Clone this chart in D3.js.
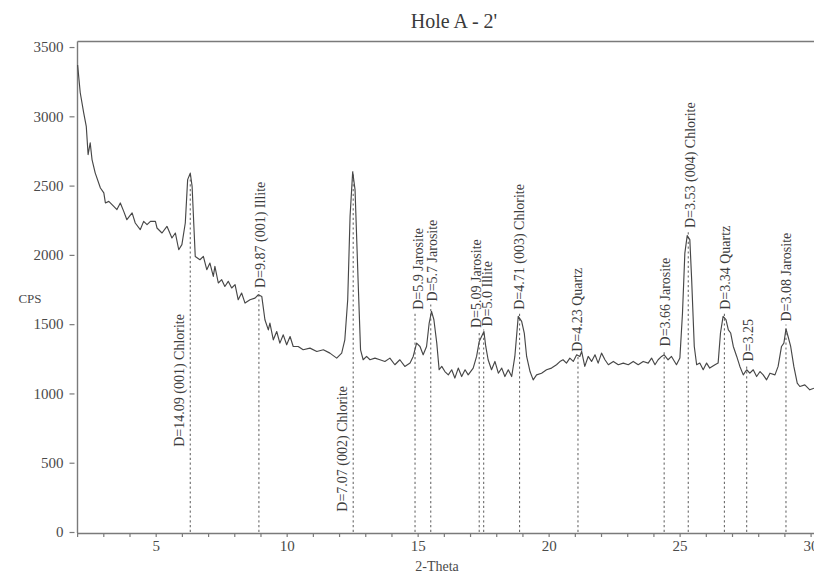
<!DOCTYPE html>
<html>
<head>
<meta charset="utf-8">
<script src="https://cdn.jsdelivr.net/npm/d3@7"></script>
<style>
  html, body { margin: 0; padding: 0; background: #fff; }
  svg { display: block; font-family: "Liberation Serif", "Times New Roman", serif; }
</style>
</head>
<body>
<svg id="chart" width="814" height="575"></svg>
<script>
// Diffraction scan: 2-theta (degrees) and counts per second
const twoTheta = [
  2.02, 2.12, 2.25, 2.35, 2.42, 2.50, 2.57, 2.69, 2.89, 3.02, 3.08, 3.21, 3.40, 3.52, 3.65, 3.78, 3.90,
  4.10, 4.22, 4.41, 4.54, 4.67, 4.80, 4.99, 5.05, 5.24, 5.43, 5.62, 5.75, 5.88, 6.00, 6.13, 6.22, 6.32,
  6.39, 6.46, 6.51, 6.69, 6.82, 6.95, 7.07, 7.20, 7.26, 7.39, 7.52, 7.64, 7.77, 7.90, 8.03, 8.15, 8.28,
  8.41, 8.60, 8.79, 8.92, 9.05, 9.17, 9.30, 9.36, 9.49, 9.62, 9.74, 9.87, 10.00, 10.13, 10.25, 10.44,
  10.63, 10.89, 11.15, 11.40, 11.65, 11.91, 12.10, 12.22, 12.33, 12.42, 12.52, 12.61, 12.73, 12.82,
  12.92, 13.05, 13.18, 13.37, 13.56, 13.75, 13.94, 14.13, 14.32, 14.51, 14.71, 14.83, 14.96, 15.09,
  15.21, 15.34, 15.44, 15.53, 15.62, 15.73, 15.82, 15.92, 16.04, 16.17, 16.30, 16.42, 16.55, 16.68,
  16.81, 16.93, 17.12, 17.25, 17.35, 17.44, 17.53, 17.60, 17.69, 17.82, 17.95, 18.08, 18.21, 18.33,
  18.46, 18.59, 18.71, 18.84, 18.97, 19.07, 19.16, 19.29, 19.41, 19.54, 19.73, 19.92, 20.11, 20.30,
  20.43, 20.55, 20.68, 20.81, 20.94, 21.07, 21.19, 21.26, 21.38, 21.51, 21.64, 21.77, 21.89, 22.02,
  22.15, 22.28, 22.47, 22.66, 22.85, 23.04, 23.23, 23.42, 23.61, 23.80, 23.93, 24.06, 24.18, 24.31,
  24.41, 24.56, 24.69, 24.88, 25.01, 25.11, 25.20, 25.29, 25.39, 25.46, 25.56, 25.65, 25.77, 25.90,
  26.03, 26.15, 26.35, 26.47, 26.56, 26.66, 26.77, 26.86, 26.95, 27.05, 27.18, 27.30, 27.43, 27.56,
  27.68, 27.81, 27.94, 28.07, 28.19, 28.32, 28.45, 28.64, 28.76, 28.89, 28.98, 29.06, 29.14, 29.24,
  29.36, 29.49, 29.59, 29.78, 29.97, 30.13
];
const counts = [
  3370, 3170, 3026, 2928, 2724, 2808, 2688, 2592, 2483, 2447, 2375, 2386, 2350, 2327, 2375, 2314, 2254,
  2303, 2230, 2182, 2242, 2218, 2242, 2242, 2194, 2158, 2206, 2122, 2158, 2037, 2074, 2230, 2543, 2590,
  2495, 2200, 1989, 1965, 1989, 1893, 1941, 1845, 1917, 1797, 1821, 1772, 1809, 1761, 1785, 1676, 1725,
  1652, 1676, 1688, 1712, 1700, 1532, 1459, 1508, 1387, 1447, 1363, 1423, 1351, 1411, 1339, 1339,
  1315, 1327, 1303, 1315, 1291, 1255, 1291, 1387, 1676, 2278, 2600, 2471, 1797, 1315,
  1243, 1267, 1243, 1255, 1243, 1231, 1255, 1207, 1243, 1195, 1219, 1267, 1363, 1339,
  1279, 1339, 1508, 1592, 1532, 1363, 1171, 1195, 1158, 1134, 1171, 1111, 1183, 1122,
  1171, 1134, 1183, 1267, 1375, 1411, 1447, 1339, 1243, 1171, 1231, 1146, 1183, 1122,
  1171, 1122, 1267, 1556, 1520, 1436, 1267, 1158, 1098, 1134, 1146, 1171, 1183, 1207,
  1230, 1243, 1219, 1255, 1231, 1279, 1267, 1303, 1195, 1267, 1231, 1279, 1219, 1291,
  1243, 1207, 1231, 1207, 1219, 1207, 1231, 1207, 1231, 1219, 1255, 1207, 1243, 1267,
  1279, 1243, 1267, 1207, 1255, 1580, 2013, 2140, 2110, 1821, 1339, 1207, 1219, 1171,
  1219, 1183, 1207, 1219, 1436, 1556, 1532, 1459, 1436, 1339, 1267, 1195, 1134, 1171,
  1146, 1171, 1122, 1158, 1134, 1098, 1146, 1134, 1195, 1339, 1363, 1465, 1411, 1339,
  1195, 1074, 1050, 1062, 1026, 1038
];

// Identified reflections
const peakPos = [6.32, 8.94, 12.54, 14.90, 15.50, 17.35, 17.52, 18.89, 21.12, 24.41, 25.33, 26.71, 27.56, 29.06];
// 2-theta at which each label's text column is centred
const labelPos = [5.89, 9.01, 12.13, 15.01, 15.58, 17.25, 17.67, 18.90, 21.10, 24.45, 25.40, 26.76, 27.61, 29.06];
const peakLabels = [
  "D=14.09 (001) Chlorite", "D=9.87 (001) Illite", "D=7.07 (002) Chlorite",
  "D=5.9 Jarosite", "D=5.7 Jarosite", "D=5.09 Jarosite", "D=5.0 Illite",
  "D=4.71 (003) Chlorite", "D=4.23 Quartz", "D=3.66 Jarosite", "D=3.53 (004) Chlorite",
  "D=3.34 Quartz", "D=3.25", "D=3.08 Jarosite"
];
// CPS level where each marker line stops, and where its label begins
const markerTop = [2590, 1761, 2600, 1604, 1664, 1472, 1483, 1604, 1300, 1339, 2194, 1604, 1230, 1519];
const labelBase = [615, 1761, 147, 1604, 1664, 1472, 1483, 1604, 1300, 1339, 2194, 1604, 1230, 1519];
const labelBelow = [true, false, true, false, false, false, false, false, false, false, false, false, false, false];

const yTicks = [0, 500, 1000, 1500, 2000, 2500, 3000, 3500];
const xMajor = [5, 10, 15, 20, 25, 30];
const xMinor = d3.range(2, 31);

const svg = d3.select("#chart");
const plotLeft = 77.5, plotRight = 814, plotTop = 41.5, plotBottom = 532;

const x = d3.scaleLinear().domain([2, 30.13]).range([77.1, 814]);
const y = d3.scaleLinear().domain([0, 3540]).range([plotBottom, plotTop]);

const axisColor = "#7a7a7a";
const textColor = "#4a4a4a";

// Title
svg.append("text")
  .attr("x", 454).attr("y", 28)
  .attr("text-anchor", "middle")
  .attr("font-size", 20)
  .attr("fill", "#3a3a3a")
  .text("Hole A - 2'");

// Frame: top and left edges
svg.append("line").attr("x1", plotLeft).attr("x2", plotRight).attr("y1", plotTop).attr("y2", plotTop)
  .attr("stroke", axisColor).attr("stroke-width", 1.6);
svg.append("line").attr("x1", plotLeft).attr("x2", plotLeft).attr("y1", plotTop).attr("y2", plotBottom + 1)
  .attr("stroke", axisColor).attr("stroke-width", 1.4);

// Y axis (ticks sit slightly apart from the frame)
const yAxis = svg.append("g")
  .attr("transform", `translate(${plotLeft - 3},0)`)
  .call(d3.axisLeft(y).tickValues(yTicks).tickSize(5).tickPadding(6).tickFormat(d3.format("d")));
yAxis.select(".domain").remove();
yAxis.selectAll("line").attr("stroke", axisColor).attr("stroke-width", 1.2);
yAxis.selectAll("text")
  .attr("font-family", "Liberation Serif, serif")
  .attr("font-size", 15)
  .attr("fill", textColor);

// X axis
const xAxis = svg.append("g")
  .attr("transform", `translate(0,${plotBottom + 1})`)
  .call(d3.axisBottom(x).tickValues(xMinor).tickSize(4).tickPadding(3)
    .tickFormat(d => xMajor.includes(d) ? d : ""));
xAxis.select(".domain").attr("stroke", axisColor).attr("stroke-width", 1.6)
  .attr("d", `M${plotLeft},0.5H${plotRight}`);
xAxis.selectAll("line").attr("stroke", axisColor).attr("stroke-width", 1.2);
xAxis.selectAll("text")
  .attr("font-family", "Liberation Serif, serif")
  .attr("font-size", 15)
  .attr("fill", textColor);

// Axis titles
svg.append("text")
  .attr("x", 30).attr("y", 303)
  .attr("text-anchor", "middle")
  .attr("font-size", 13)
  .attr("fill", textColor)
  .text("CPS");
svg.append("text")
  .attr("x", 437).attr("y", 571)
  .attr("text-anchor", "middle")
  .attr("font-size", 14)
  .attr("fill", textColor)
  .text("2-Theta");

// Peak marker lines
const markers = peakPos.map((p, i) => ({
  pos: p, lpos: labelPos[i], label: peakLabels[i],
  topVal: markerTop[i], base: labelBase[i], below: labelBelow[i]
}));

svg.append("g").selectAll("line").data(markers).join("line")
  .attr("x1", d => x(d.pos)).attr("x2", d => x(d.pos))
  .attr("y1", plotBottom)
  .attr("y2", d => d.below ? y(d.topVal) : y(d.topVal) + 3)
  .attr("stroke", "#6a6a6a")
  .attr("stroke-width", 1.1)
  .attr("stroke-dasharray", "2.2,2.6");

// Scan trace
const scan = twoTheta.map((t, i) => [t, counts[i]]);
svg.append("path")
  .datum(scan)
  .attr("fill", "none")
  .attr("stroke", "#474747")
  .attr("stroke-width", 1.15)
  .attr("stroke-linejoin", "round")
  .attr("d", d3.line().x(d => x(d[0])).y(d => y(d[1])));

// Peak labels, written upward along the marker lines
svg.append("g").selectAll("text").data(markers).join("text")
  .attr("transform", d => `translate(${x(d.lpos)},${y(d.base)}) rotate(-90)`)
  .attr("dy", "0.33em")
  .attr("text-anchor", "start")
  .attr("font-size", 14)
  .attr("fill", "#3c3c3c")
  .text(d => d.label);
</script>
</body>
</html>
